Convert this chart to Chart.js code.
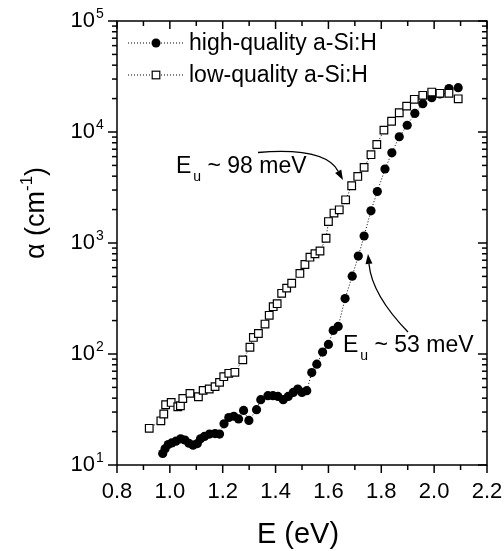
<!DOCTYPE html>
<html>
<head>
<meta charset="utf-8">
<script src="https://cdn.jsdelivr.net/npm/chart.js@4.4.1/dist/chart.umd.min.js"></script>
<style>
    html, body { margin: 0; padding: 0; background: #fff; }
    canvas { display: block; }
</style>
</head>
<body>
<canvas id="absChart" width="504" height="551"></canvas>
<script>
// Absorption edge data: photon energy (eV) vs absorption coefficient (cm^-1)
const hqEnergy = [0.973, 0.982, 0.994, 1.007, 1.023, 1.041, 1.057, 1.072, 1.088, 1.104, 1.116, 1.131, 1.150, 1.171, 1.188,
    1.205, 1.223, 1.242, 1.260, 1.279, 1.299, 1.328, 1.344, 1.371, 1.390, 1.409, 1.429, 1.448, 1.467, 1.484, 1.500, 1.518,
    1.537, 1.556, 1.578, 1.600, 1.618, 1.637, 1.663, 1.690, 1.713, 1.735, 1.761, 1.785, 1.814, 1.840, 1.868, 1.898, 1.927,
    1.957, 1.991, 2.022, 2.056, 2.091];
const hqAlpha = [12.7, 14.0, 15.3, 15.8, 16.4, 17.2, 16.8, 15.7, 15.1, 15.6, 17.2, 18.1, 19.0, 19.2, 19.0,
    23.5, 26.8, 27.5, 26.0, 31.0, 25.2, 31.5, 38.8, 42.1, 42.1, 41.5, 38.8, 41.5, 45.1, 48.4, 45.1, 46.7,
    68, 81, 104, 122, 163, 177, 316, 502, 762, 1156, 1950, 2910, 4640, 6490, 9060, 11500, 14700,
    18000, 20400, 22000, 24600, 25100];

const lqEnergy = [0.922, 0.966, 0.977, 0.984, 1.005, 1.030, 1.040, 1.049, 1.076, 1.108, 1.126, 1.149, 1.171, 1.188,
    1.204, 1.223, 1.246, 1.276, 1.303, 1.316, 1.335, 1.360, 1.376, 1.391, 1.406, 1.423, 1.442, 1.461, 1.492, 1.511,
    1.530, 1.549, 1.568, 1.591, 1.600, 1.621, 1.641, 1.665, 1.688, 1.711, 1.735, 1.761, 1.783, 1.810, 1.839, 1.868,
    1.896, 1.925, 1.957, 1.991, 2.022, 2.056, 2.091];
const lqAlpha = [21.4, 25.0, 28.8, 34.9, 36.6, 33.5, 34.2, 39.7, 44.2, 41.2, 47.0, 48.4, 50.8, 55.5,
    62.5, 67.0, 68.4, 88.5, 115, 141, 153, 186, 223, 267, 284, 352, 392, 434, 532, 640,
    745, 800, 847, 1104, 1560, 1860, 1990, 2450, 3280, 3980, 4800, 6250, 7710, 10400, 12500, 14900,
    17100, 19700, 21400, 22900, 22300, 22300, 19900];

const seriesNames = ['high-quality a-Si:H', 'low-quality a-Si:H'];

const xTickValues = [0.8, 1.0, 1.2, 1.4, 1.6, 1.8, 2.0, 2.2];
const xTickLabels = ['0.8', '1.0', '1.2', '1.4', '1.6', '1.8', '2.0', '2.2'];
const yTickValues = [10, 100, 1000, 10000, 100000];
const yTickExponents = ['1', '2', '3', '4', '5'];

// Urbach energy notes: label anchor and curved arrow (start, bend, tip) in data units
const noteValues = ['~ 98 meV', '~ 53 meV'];
const noteAnchor = [[1.023, 4315], [1.655, 105]];
const arrowStart = [[1.3335, 6536], [1.901, 158]];
const arrowBend = [[1.587, 7328], [1.765, 340]];
const arrowTip = [[1.655, 3695], [1.7497, 796]];

const FONT = "'Liberation Sans', Arial, Helvetica, sans-serif";

const toPoints = (xs, ys) => xs.map((v, i) => ({ x: v, y: ys[i] }));

// Frame, ticks, labels, legend and notes
const framePlugin = {
    id: 'framePlugin',
    afterDraw(chart) {
        const { ctx, chartArea: a, scales: { x, y } } = chart;
        ctx.save();
        ctx.strokeStyle = '#000';
        ctx.fillStyle = '#000';
        ctx.lineWidth = 1.5;
        ctx.lineCap = 'butt';

        const seg = (x1, y1, x2, y2) => {
            ctx.beginPath();
            ctx.moveTo(x1, y1);
            ctx.lineTo(x2, y2);
            ctx.stroke();
        };

        ctx.strokeRect(a.left, a.top, a.right - a.left, a.bottom - a.top);

        // x ticks every 0.1, labelled every 0.2
        for (let k = 8; k <= 22; k++) {
            const px = x.getPixelForValue(k / 10);
            const len = k % 2 === 0 ? 8 : 5;
            seg(px, a.bottom, px, a.bottom + len);
            seg(px, a.top, px, a.top + len);
        }
        // y log ticks
        for (let d = 1; d <= 5; d++) {
            for (let m = 1; m <= 9; m++) {
                const v = m * Math.pow(10, d);
                if (v > 100000) break;
                const py = y.getPixelForValue(v);
                const len = m === 1 ? 9 : 5;
                seg(a.left - len, py, a.left, py);
                seg(a.right - len, py, a.right, py);
            }
        }

        // x tick labels
        ctx.font = '22px ' + FONT;
        ctx.textAlign = 'center';
        ctx.textBaseline = 'middle';
        xTickValues.forEach((v, i) => {
            ctx.fillText(xTickLabels[i], x.getPixelForValue(v), a.bottom + 27);
        });

        // y tick labels with superscript exponent
        yTickValues.forEach((v, i) => {
            const py = y.getPixelForValue(v);
            ctx.font = '22px ' + FONT;
            ctx.textAlign = 'right';
            ctx.textBaseline = 'middle';
            ctx.fillText('10', a.left - 22, py);
            ctx.font = '14px ' + FONT;
            ctx.textAlign = 'left';
            ctx.textBaseline = 'alphabetic';
            ctx.fillText(yTickExponents[i], a.left - 21, py - 3);
        });

        // axis titles
        ctx.font = '29px ' + FONT;
        ctx.textAlign = 'center';
        ctx.textBaseline = 'middle';
        ctx.fillText('E (eV)', (a.left + a.right) / 2 - 4, 535);

        ctx.save();
        ctx.translate(37, 213);
        ctx.rotate(-Math.PI / 2);
        ctx.textBaseline = 'middle';
        ctx.textAlign = 'left';
        const mainFont = '27px ' + FONT;
        const supFont = '17px ' + FONT;
        ctx.font = mainFont;
        const w1 = ctx.measureText('\u03b1 (cm').width;
        const w3 = ctx.measureText(')').width;
        ctx.font = supFont;
        const w2 = ctx.measureText('-1').width;
        let tx = -(w1 + w2 + w3) / 2;
        ctx.font = mainFont;
        ctx.fillText('\u03b1 (cm', tx, 0);
        tx += w1;
        ctx.font = supFont;
        ctx.fillText('-1', tx, -10);
        tx += w2;
        ctx.font = mainFont;
        ctx.fillText(')', tx, 0);
        ctx.restore();

        // legend
        const rows = [a.top + 22, a.top + 54];
        rows.forEach((ry, i) => {
            ctx.save();
            ctx.lineWidth = 1;
            ctx.setLineDash([1, 2]);
            seg(a.left + 11, ry, a.left + 68, ry);
            ctx.restore();
            const mx = a.left + 39;
            if (i === 0) {
                ctx.beginPath();
                ctx.arc(mx, ry, 4.5, 0, Math.PI * 2);
                ctx.fill();
            } else {
                ctx.save();
                ctx.fillStyle = '#fff';
                ctx.lineWidth = 1.2;
                ctx.fillRect(mx - 3.8, ry - 3.8, 7.6, 7.6);
                ctx.strokeRect(mx - 3.8, ry - 3.8, 7.6, 7.6);
                ctx.restore();
            }
            ctx.font = '23px ' + FONT;
            ctx.textAlign = 'left';
            ctx.textBaseline = 'middle';
            ctx.fillText(seriesNames[i], a.left + 72, ry + 1);
        });

        // Urbach energy notes with curved arrows
        noteValues.forEach((txt, i) => {
            const nx = x.getPixelForValue(noteAnchor[i][0]);
            const ny = y.getPixelForValue(noteAnchor[i][1]);
            ctx.textAlign = 'left';
            ctx.textBaseline = 'alphabetic';
            ctx.font = '23px ' + FONT;
            ctx.fillText('E', nx, ny);
            const wE = ctx.measureText('E').width;
            ctx.font = '14px ' + FONT;
            ctx.fillText('u', nx + wE + 2, ny + 8);
            const wu = ctx.measureText('u').width;
            ctx.font = '23px ' + FONT;
            ctx.fillText(' ' + txt, nx + wE + 2 + wu, ny);

            const sx = x.getPixelForValue(arrowStart[i][0]);
            const sy = y.getPixelForValue(arrowStart[i][1]);
            const cx = x.getPixelForValue(arrowBend[i][0]);
            const cy = y.getPixelForValue(arrowBend[i][1]);
            const ex = x.getPixelForValue(arrowTip[i][0]);
            const ey = y.getPixelForValue(arrowTip[i][1]);
            const ang = Math.atan2(ey - cy, ex - cx);
            const headLen = 10, headHalf = 3.5;
            const bx = ex - headLen * Math.cos(ang);
            const by = ey - headLen * Math.sin(ang);
            ctx.lineWidth = 1.3;
            ctx.beginPath();
            ctx.moveTo(sx, sy);
            ctx.quadraticCurveTo(cx, cy, bx, by);
            ctx.stroke();
            ctx.beginPath();
            ctx.moveTo(ex, ey);
            ctx.lineTo(bx + headHalf * Math.sin(ang), by - headHalf * Math.cos(ang));
            ctx.lineTo(bx - headHalf * Math.sin(ang), by + headHalf * Math.cos(ang));
            ctx.closePath();
            ctx.fill();
        });

        ctx.restore();
    }
};

document.addEventListener('DOMContentLoaded', () => {
    const ctx = document.getElementById('absChart');
    new Chart(ctx, {
        type: 'scatter',
        data: {
            datasets: [
                {
                    label: seriesNames[0],
                    data: toPoints(hqEnergy, hqAlpha),
                    showLine: true,
                    borderColor: '#000',
                    borderWidth: 1,
                    borderDash: [1, 2],
                    pointStyle: 'circle',
                    pointRadius: 4.6,
                    pointBackgroundColor: '#000',
                    pointBorderColor: '#000',
                    pointBorderWidth: 0,
                    order: 2
                },
                {
                    label: seriesNames[1],
                    data: toPoints(lqEnergy, lqAlpha),
                    showLine: true,
                    borderColor: '#000',
                    borderWidth: 1,
                    borderDash: [1, 2],
                    pointStyle: 'rect',
                    pointRadius: 5.4,
                    pointBackgroundColor: '#fff',
                    pointBorderColor: '#000',
                    pointBorderWidth: 1.2,
                    order: 1
                }
            ]
        },
        options: {
            responsive: false,
            animation: false,
            devicePixelRatio: 1,
            layout: {
                padding: { top: 21, right: 17, bottom: 0, left: 0 },
                autoPadding: false
            },
            plugins: {
                legend: { display: false },
                tooltip: { enabled: false }
            },
            scales: {
                x: {
                    type: 'linear',
                    min: 0.8,
                    max: 2.2,
                    grid: { display: false },
                    border: { display: false },
                    ticks: { display: false },
                    afterFit: (s) => { s.height = 86; }
                },
                y: {
                    type: 'logarithmic',
                    min: 10,
                    max: 100000,
                    grid: { display: false },
                    border: { display: false },
                    ticks: { display: false },
                    afterFit: (s) => { s.width = 117; }
                }
            }
        },
        plugins: [framePlugin]
    });
});
</script>
</body>
</html>
